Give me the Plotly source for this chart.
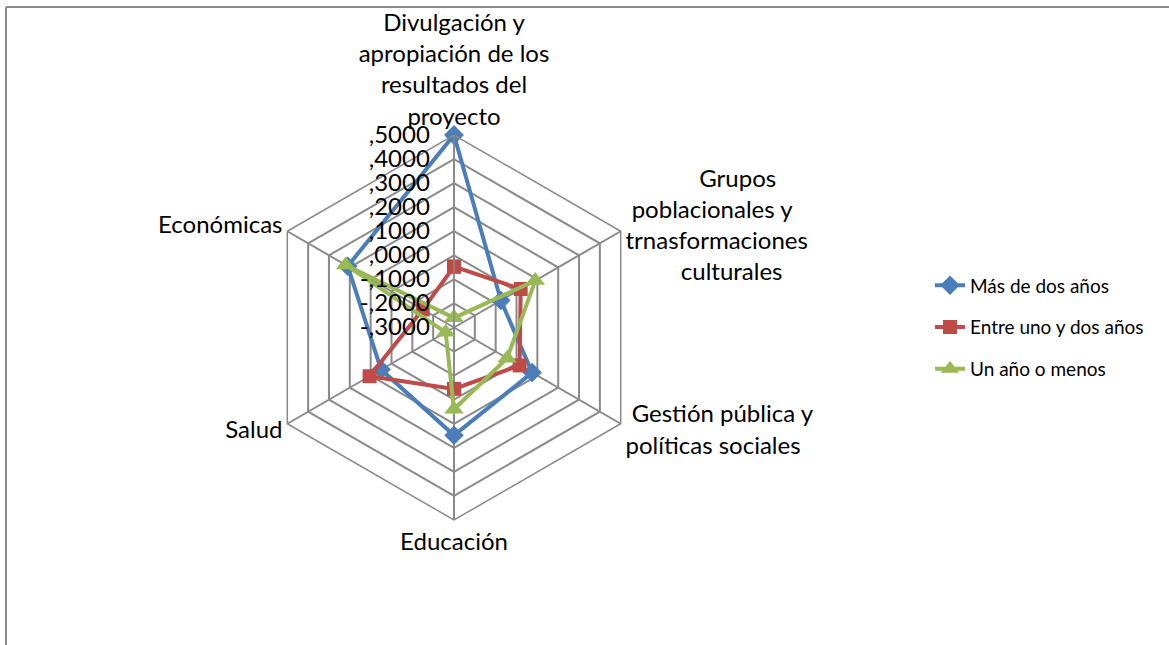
import plotly.graph_objects as go

NB = "\u00a0"
categories = [
    "Divulgación y<br>apropiación de los<br>resultados del<br>proyecto",
    (NB + "<br>") * 3 + NB * 12 + "Grupos<br>" + NB + "poblacionales y<br>trnasformaciones<br>" + NB * 9 + "culturales",
    NB + "Gestión pública y<br>políticas sociales" + ("<br>" + NB) * 2,
    "Educación",
    "Salud<br>",
    "Económicas",
]
mas_de_dos = [0.50, -0.075, 0.075, 0.148, 0.05, 0.21]
entre_uno_dos = [-0.047, 0.02, 0.015, -0.045, 0.105, -0.15]
un_ano_menos = [-0.26, 0.09, -0.045, 0.04, -0.26, 0.22]

tick_vals = [-0.3, -0.2, -0.1, 0.0, 0.1, 0.2, 0.3, 0.4, 0.5]
tick_text = ["-,3000", "-,2000", "-,1000", ",0000", ",1000", ",2000", ",3000", ",4000", ",5000"]

# Plotly hides polar markers when the radial range starts below zero (linear grid),
# so radii are measured from the axis minimum and ticks keep the original labels.
R_MIN, R_MAX = tick_vals[0], tick_vals[-1]

series = [
    ("Más de dos años", mas_de_dos, "#4A7EBB", "diamond", 15),
    ("Entre uno y dos años", entre_uno_dos, "#BE4B48", "square", 14),
    ("Un año o menos", un_ano_menos, "#98B954", "triangle-up", 17),
]

W, H = 1169, 645
FONT = "Lato"

fig = go.Figure()
for i, (name, vals, color, sym, size) in enumerate(series):
    closed = vals + [vals[0]]
    fig.add_trace(go.Scatterpolar(
        r=[v - R_MIN for v in closed],
        theta=categories + [categories[0]],
        customdata=closed,
        hovertemplate="%{customdata:.4f}<extra>" + name + "</extra>",
        mode="lines+markers",
        name=name,
        legendgroup=f"g{i}",
        cliponaxis=False,
        line=dict(color=color, width=4),
        marker=dict(symbol=sym, size=size, color=color),
    ))

cx, cy, R = 454, 327.5, 192.5
fig.update_layout(
    width=W, height=H,
    margin=dict(l=0, r=0, t=0, b=0),
    paper_bgcolor="white",
    plot_bgcolor="white",
    font=dict(family=FONT, color="black", size=24),
    polar=dict(
        domain=dict(x=[(cx - R) / W, (cx + R) / W], y=[(H - cy - R) / H, (H - cy + R) / H]),
        bgcolor="white",
        gridshape="linear",
        radialaxis=dict(
            range=[0, R_MAX - R_MIN],
            angle=90,
            side="counterclockwise",
            tickangle=90,
            tickvals=[t - R_MIN for t in tick_vals],
            ticktext=tick_text,
            tickfont=dict(size=24, family=FONT, color="black"),
            showline=True,
            linecolor="#8a8a8a",
            linewidth=1.5,
            gridcolor="#8a8a8a",
            gridwidth=1.5,
            ticks="outside",
            ticklen=15,
            tickcolor="rgba(0,0,0,0)",
        ),
        angularaxis=dict(
            direction="clockwise",
            rotation=90,
            tickfont=dict(size=24, family=FONT, color="black"),
            showline=True,
            linecolor="#8a8a8a",
            linewidth=1.5,
            gridcolor="#8a8a8a",
            gridwidth=1.5,
            ticks="",
        ),
    ),
    legend=dict(
        x=930 / W, y=1 - 327.5 / H, xanchor="left", yanchor="middle",
        font=dict(size=19, family=FONT, color="black"),
        tracegroupgap=14,
        bgcolor="rgba(0,0,0,0)",
    ),
    shapes=[
        dict(type="line", xref="paper", yref="paper", x0=6 / W, x1=1, y0=1 - 7 / H, y1=1 - 7 / H,
             line=dict(color="#8a8a8a", width=2)),
        dict(type="line", xref="paper", yref="paper", x0=6 / W, x1=6 / W, y0=0, y1=1 - 7 / H,
             line=dict(color="#8a8a8a", width=2)),
    ],
)

fig.write_html(
    "out.html",
    config={"displayModeBar": False},
    post_script="document.body.style.margin='0';document.body.style.overflow='hidden';",
)
